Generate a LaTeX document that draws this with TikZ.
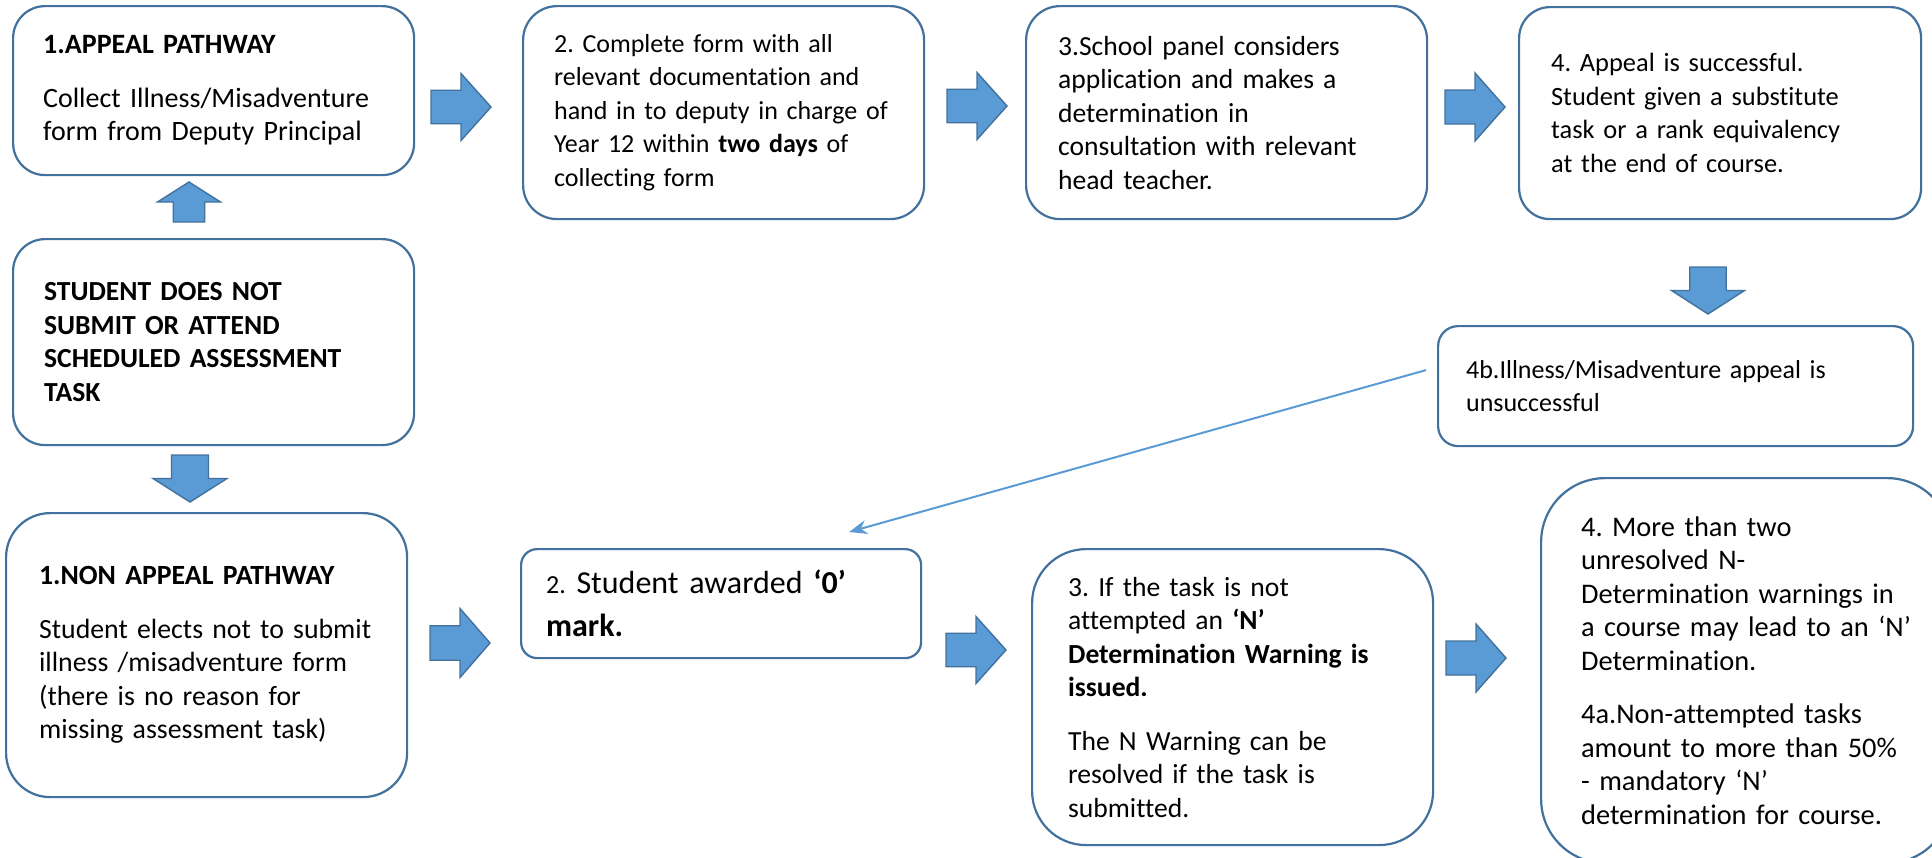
\documentclass[tikz,border=0pt]{standalone}
\usepackage{fontspec}
\setmainfont{Carlito}[Ligatures=NoCommon]
\usetikzlibrary{calc,arrows.meta}
\definecolor{boxblue}{HTML}{41719C}
\definecolor{arrowblue}{HTML}{5B9BD5}

\tikzset{
  stepbox/.style={draw=boxblue, line width=1.1pt, fill=white, align=left,
    anchor=north west, inner ysep=0pt, font=\fontsize{#1}{16.75pt}\selectfont},
  stepbox/.default=13pt,
  arrowfill/.style={fill=arrowblue, draw=boxblue, line width=0.7pt, line join=miter},
  linkline/.style={draw=arrowblue, line width=1pt, -{Stealth[length=9pt,width=7pt]}}
}
% tail, angle, length, head width
\newcommand\fatarrow[4]{%
  \filldraw[arrowfill, shift={#1}, rotate=#2] (0,-#4/4) -- (#3/2,-#4/4) -- (#3/2,-#4/2)
    -- (#3,0) -- (#3/2,#4/2) -- (#3/2,#4/4) -- (0,#4/4) -- cycle;}

\begin{document}
\frenchspacing
\begin{tikzpicture}[x=0.5pt,y=-0.5pt]
\useasboundingbox (0,0) rectangle (1932,857);

% appeal pathway
\node[stepbox=14pt, inner xsep=15pt, text width=170.5pt, minimum height=84.5pt, rounded corners=16pt] (ap1) at (12,5)
  {\textbf{1.APPEAL PATHWAY}\\[10pt]Collect Illness/Misadventure\\form from Deputy Principal};
\node[stepbox, inner xsep=15.5pt, text width=169.5pt, minimum height=106.5pt, rounded corners=17pt] (ap2) at (522,5)
  {2. Complete form with all\\relevant documentation and\\hand in to deputy in charge of\\Year 12 within \textbf{two days} of\\collecting form};
\node[stepbox=13.8pt, inner xsep=16pt, text width=168.5pt, minimum height=106.5pt, rounded corners=17pt] (ap3) at (1025,5)
  {3.School panel considers\\application and makes a\\determination in\\consultation with relevant\\head teacher.};
\node[stepbox=13.2pt, inner xsep=16pt, text width=169pt, minimum height=106pt, rounded corners=15.5pt] (ap4) at (1518,6)
  {4. Appeal is successful.\\Student given a substitute\\task or a rank equivalency\\at the end of course.};
\node[stepbox, inner xsep=14pt, text width=209.5pt, minimum height=60pt, rounded corners=10pt] (ap4b) at (1437,325)
  {4b.Illness/Misadventure appeal is\\unsuccessful};

\node[stepbox=13.8pt, inner xsep=15.5pt, text width=169.5pt, minimum height=103pt, rounded corners=16pt] (st) at (12,238)
  {\textbf{STUDENT DOES NOT}\\\textbf{SUBMIT OR ATTEND}\\\textbf{SCHEDULED ASSESSMENT}\\\textbf{TASK}};

% non appeal pathway
\node[stepbox=13.9pt, inner xsep=16.5pt, text width=167.5pt, minimum height=142pt, rounded corners=22pt] (na1) at (5,512)
  {\textbf{1.NON APPEAL PATHWAY}\\[10pt]Student elects not to submit\\illness /misadventure form\\(there is no reason for\\missing assessment task)};
\node[stepbox, inner xsep=12.5pt, text width=175pt, minimum height=54.5pt, rounded corners=8pt,
  font=\fontsize{16pt}{21.5pt}\selectfont] (na2) at (520,548)
  {{\fontsize{13pt}{16.75pt}\selectfont 2.} Student awarded \textbf{‘0’}\\\textbf{mark.}};
\node[stepbox=13.8pt, inner xsep=18pt, text width=164.5pt, minimum height=148pt, rounded corners=27pt] (na3) at (1031,548)
  {3. If the task is not\\attempted an \textbf{‘N’}\\\textbf{Determination Warning is}\\\textbf{issued.}\\[10pt]The N Warning can be\\resolved if the task is\\submitted.};
\node[stepbox=14.2pt, inner xsep=20pt, text width=165pt, minimum height=192.5pt, rounded corners=32pt] (na4) at (1540,477)
  {4. More than two\\unresolved N-\\Determination warnings in\\a course may lead to an ‘N’\\Determination.\\[10pt]4a.Non-attempted tasks\\amount to more than 50\%\\- mandatory ‘N’\\determination for course.};

% block arrows
\fatarrow{(431,107)}{0}{60}{67}
\fatarrow{(947,106)}{0}{60}{67}
\fatarrow{(1445,107)}{0}{60}{68}
\fatarrow{(189,222)}{90}{40}{63}
\fatarrow{(190,455)}{-90}{47}{74}
\fatarrow{(1708,267)}{-90}{47}{73}
\fatarrow{(430,643)}{0}{60}{69}
\fatarrow{(946,650)}{0}{60}{67}
\fatarrow{(1446,658)}{0}{60}{68}

\draw[linkline] ($(ap4b.west)+(-11,-16)$) -- ($(na2.north)+(128,-16)$);

\end{tikzpicture}
\end{document}
